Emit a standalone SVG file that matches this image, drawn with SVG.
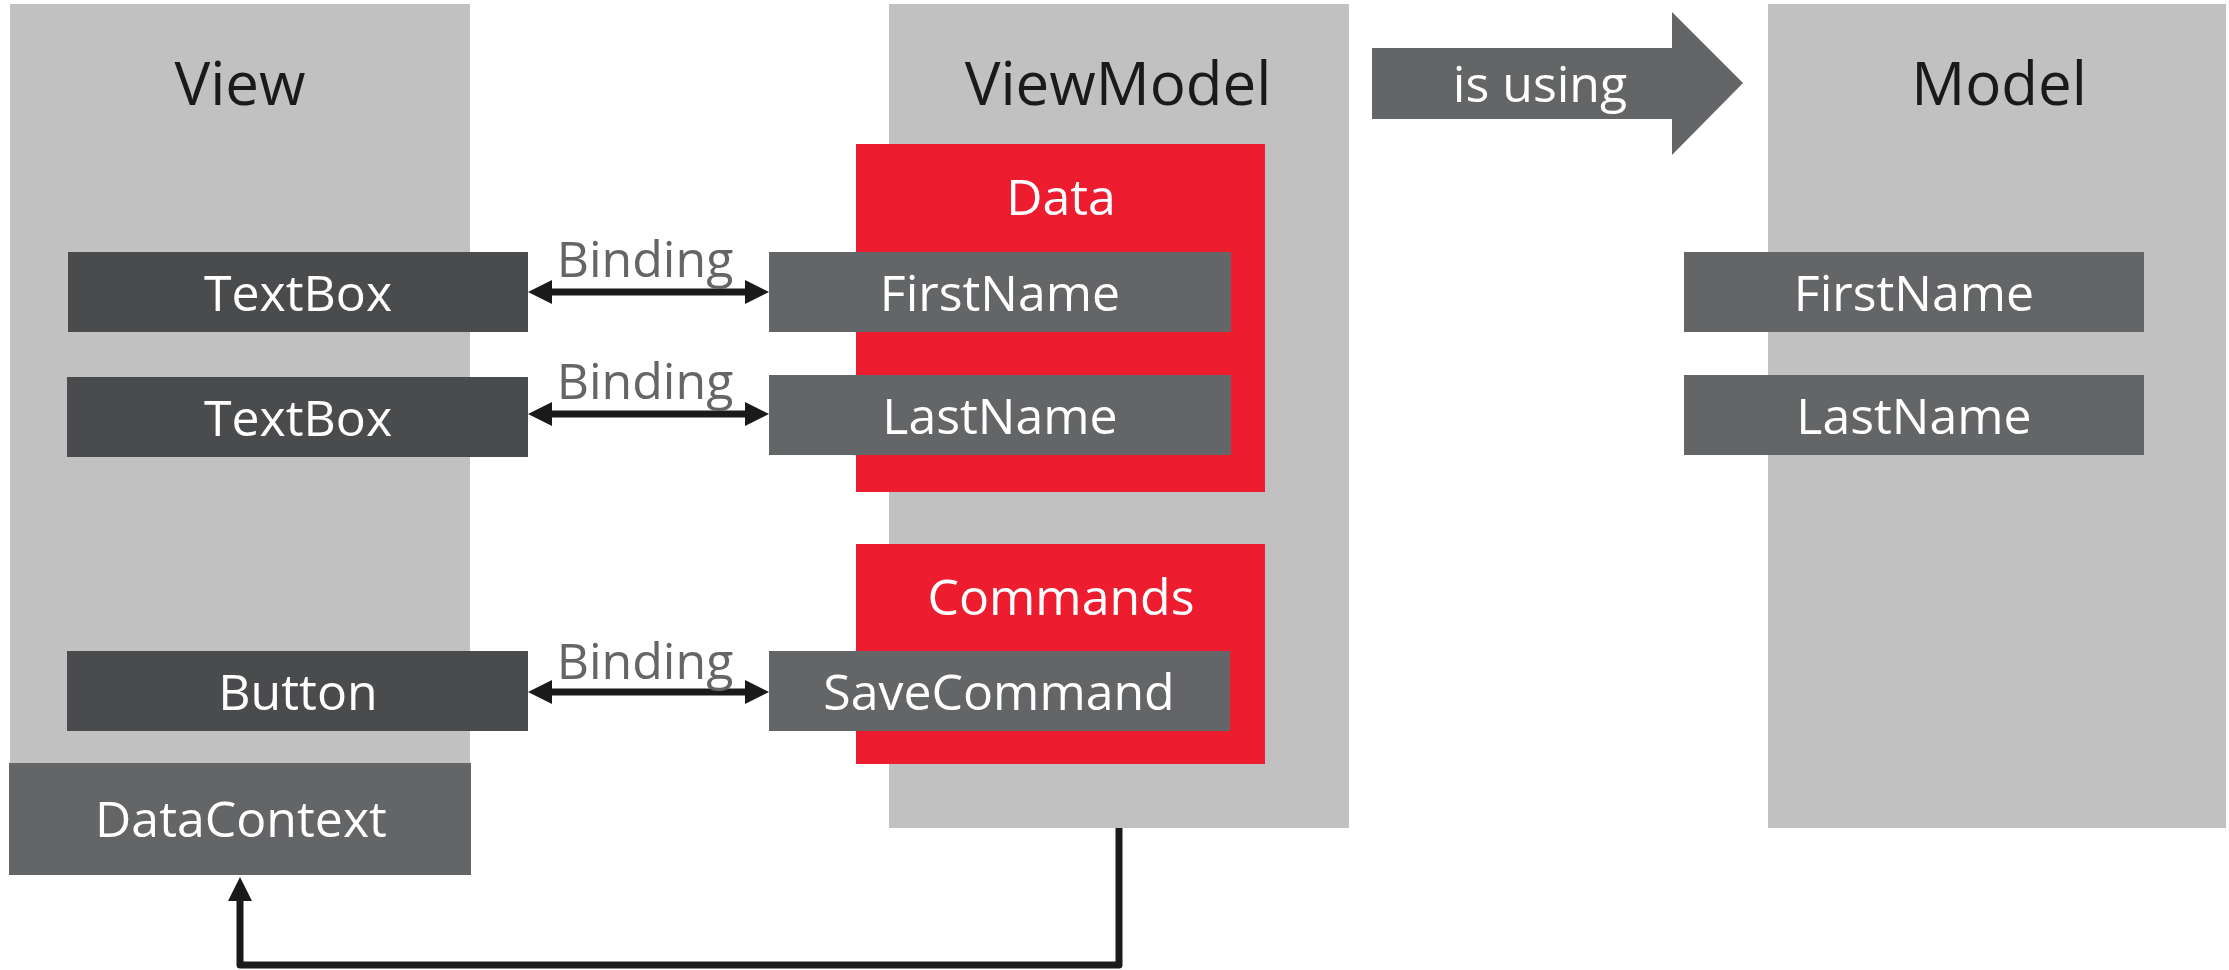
<svg xmlns="http://www.w3.org/2000/svg" width="2229" height="970" viewBox="0 0 2229 970">
<style>
.col{fill:#C1C1C1}
.red{fill:#ED1C2E}
.dark{fill:#4A4B4D}
.mid{fill:#646567}
text{font-family:"Open Sans","Noto Sans","Liberation Sans",sans-serif;text-anchor:middle}
.title{font-size:60px;fill:#1A1A1A}
.lbl{font-size:50px;fill:#FFFFFF}
.bind{font-size:50px;fill:#646567}
.conn{fill:none;stroke:#1A1A1A;stroke-width:7;stroke-linejoin:round}
</style>
<defs>
<marker id="ah" markerUnits="userSpaceOnUse" markerWidth="24" markerHeight="24" viewBox="0 0 24 24" refX="4" refY="12" orient="auto-start-reverse">
<path d="M0,0 L24,12 L0,24 z" fill="#1A1A1A"/>
</marker>
</defs>
<rect width="2229" height="970" fill="#FFFFFF"/>
<g id="view">
<rect class="col" x="10" y="4" width="460" height="759"/>
<text class="title" x="240" y="105">View</text>
</g>
<g id="viewmodel">
<rect class="col" x="889" y="4" width="460" height="824"/>
<text class="title" x="1118" y="105">ViewModel</text>
</g>
<g id="model">
<rect class="col" x="1768" y="4" width="458" height="824"/>
<text class="title" x="1999" y="105">Model</text>
</g>
<g id="data">
<rect class="red" x="856" y="144" width="409" height="348"/>
<text class="lbl" x="1061" y="215">Data</text>
</g>
<g id="commands">
<rect class="red" x="856" y="544" width="409" height="220"/>
<text class="lbl" x="1061" y="615">Commands</text>
</g>
<g id="textbox1">
<rect class="dark" x="68" y="252" width="460" height="80"/>
<text class="lbl" x="298" y="311">TextBox</text>
</g>
<g id="textbox2">
<rect class="dark" x="67" y="377" width="461" height="80"/>
<text class="lbl" x="298" y="436">TextBox</text>
</g>
<g id="button">
<rect class="dark" x="67" y="651" width="461" height="80"/>
<text class="lbl" x="298" y="710">Button</text>
</g>
<g id="datacontext">
<rect class="mid" x="9" y="763" width="462" height="112"/>
<text class="lbl" x="241" y="837">DataContext</text>
</g>
<g id="vm-firstname">
<rect class="mid" x="769" y="252" width="462" height="80"/>
<text class="lbl" x="1000" y="311">FirstName</text>
</g>
<g id="vm-lastname">
<rect class="mid" x="769" y="375" width="462" height="80"/>
<text class="lbl" x="1000" y="434">LastName</text>
</g>
<g id="savecommand">
<rect class="mid" x="769" y="651" width="461" height="80"/>
<text class="lbl" x="999" y="710">SaveCommand</text>
</g>
<g id="m-firstname">
<rect class="mid" x="1684" y="252" width="460" height="80"/>
<text class="lbl" x="1914" y="311">FirstName</text>
</g>
<g id="m-lastname">
<rect class="mid" x="1684" y="375" width="460" height="80"/>
<text class="lbl" x="1914" y="434">LastName</text>
</g>
<g id="is-using">
<polygon class="mid" points="1372,48 1672,48 1672,12 1743,83 1672,155 1672,119 1372,119"/>
<text class="lbl" x="1540" y="102">is using</text>
</g>
<g id="connectors">
<line class="conn" x1="548" y1="292" x2="749" y2="292" marker-start="url(#ah)" marker-end="url(#ah)"/>
<text class="bind" x="645" y="277">Binding</text>
<line class="conn" x1="548" y1="414" x2="749" y2="414" marker-start="url(#ah)" marker-end="url(#ah)"/>
<text class="bind" x="645" y="399">Binding</text>
<line class="conn" x1="548" y1="692" x2="749" y2="692" marker-start="url(#ah)" marker-end="url(#ah)"/>
<text class="bind" x="645" y="679">Binding</text>
<path class="conn" d="M1119,828 V965 H240 V897" marker-end="url(#ah)"/>
</g>
</svg>
